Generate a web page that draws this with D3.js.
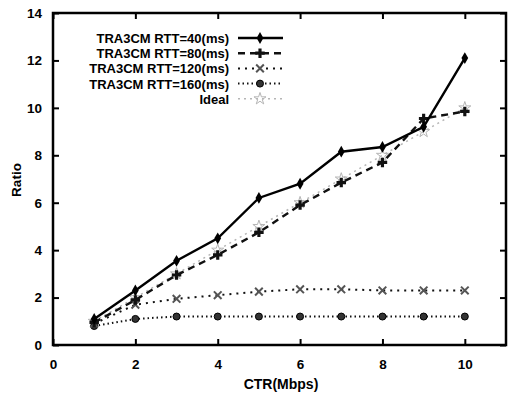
<!DOCTYPE html>
<html>
<head>
<meta charset="utf-8">
<script src="https://cdn.jsdelivr.net/npm/d3@7"></script>
<style>
  body { margin: 0; background: #fff; }
  text { font-family: "Liberation Sans", Arial, sans-serif; font-weight: bold; fill: #000; }
</style>
</head>
<body>
<svg id="chart" width="509" height="398"></svg>
<script>
const CTR = [1, 2, 3, 4, 5, 6, 7, 8, 9, 10];
const rtt40 = [1.1, 2.3, 3.55, 4.5, 6.2, 6.8, 8.15, 8.35, 9.2, 12.1];
const rtt80 = [0.95, 1.9, 2.95, 3.8, 4.75, 5.9, 6.85, 7.7, 9.55, 9.85];
const rtt120 = [0.9, 1.7, 1.95, 2.1, 2.25, 2.35, 2.35, 2.3, 2.3, 2.3];
const rtt160 = [0.8, 1.1, 1.2, 1.2, 1.2, 1.2, 1.2, 1.2, 1.2, 1.2];
const ideal = [1, 2, 3, 4, 5, 6, 7, 8, 9, 10];
const seriesNames = ["TRA3CM RTT=40(ms)", "TRA3CM RTT=80(ms)", "TRA3CM RTT=120(ms)", "TRA3CM RTT=160(ms)", "Ideal"];
const xTicks = [0, 2, 4, 6, 8, 10];
const yTicks = [0, 2, 4, 6, 8, 10, 12, 14];

const W = 509, H = 398;
const M = {left: 53, right: 3, top: 13, bottom: 53};

const svg = d3.select("#chart");

let x = d3.scaleLinear().domain([0, 11]).range([M.left, W - M.right]);
let y = d3.scaleLinear().domain([0, 14]).range([H - M.bottom, M.top]);

// line styles for each series
const styles = [
    {data: rtt40, color: "#000", width: 2.4, dash: null, marker: "diamond"},
    {data: rtt80, color: "#111", width: 2.4, dash: "7,5", marker: "plus"},
    {data: rtt120, color: "#111", width: 2, dash: "2,5", marker: "square"},
    {data: rtt160, color: "#111", width: 2, dash: "1.5,3", marker: "circle"},
    {data: ideal, color: "#b5b5b5", width: 1.5, dash: "2,4", marker: "star"}
];

let line = d3.line()
    .x(function (d) { return x(d[0]); })
    .y(function (d) { return y(d[1]); });

function drawMarker(g, type, cx, cy, color) {
    if (type === "diamond") {
        g.append("path").attr("d", d3.symbol(d3.symbolDiamond, 40)())
            .attr("transform", "translate(" + cx + "," + cy + ")").attr("fill", color);
    } else if (type === "plus") {
        g.append("path").attr("d", d3.symbol(d3.symbolCross, 50)())
            .attr("transform", "translate(" + cx + "," + cy + ")").attr("fill", color);
    } else if (type === "square") {
        g.append("path").attr("d", d3.symbol(d3.symbolX, 40)())
            .attr("transform", "translate(" + cx + "," + cy + ")")
            .attr("fill", "none").attr("stroke", "#555").attr("stroke-width", 2);
    } else if (type === "circle") {
        g.append("circle").attr("cx", cx).attr("cy", cy).attr("r", 3.5)
            .attr("fill", "#333").attr("stroke", "#000");
    } else {
        g.append("path").attr("d", d3.symbol(d3.symbolStar, 45)())
            .attr("transform", "translate(" + cx + "," + cy + ")")
            .attr("fill", "none").attr("stroke", color).attr("stroke-width", 1);
    }
}

// series (draw ideal first so it sits beneath)
[4, 3, 2, 1, 0].forEach(function (i) {
    let s = styles[i];
    let pts = CTR.map(function (c, j) { return [c, s.data[j]]; });
    let g = svg.append("g");
    g.append("path").datum(pts).attr("d", line)
        .attr("fill", "none").attr("stroke", s.color)
        .attr("stroke-width", s.width)
        .attr("stroke-dasharray", s.dash);
    pts.forEach(function (p) { drawMarker(g, s.marker, x(p[0]), y(p[1]), s.color); });
});

// frame
svg.append("rect")
    .attr("x", M.left).attr("y", M.top)
    .attr("width", W - M.right - M.left).attr("height", H - M.bottom - M.top)
    .attr("fill", "none").attr("stroke", "#000").attr("stroke-width", 2.5);

// axes with inward ticks
let xAxis = d3.axisBottom(x).tickValues(xTicks).tickSize(-6).tickPadding(14);
let gx = svg.append("g").attr("transform", "translate(0," + (H - M.bottom) + ")").call(xAxis);
let gxTop = svg.append("g").attr("transform", "translate(0," + M.top + ")")
    .call(d3.axisTop(x).tickValues(xTicks).tickSize(-6).tickFormat(""));
let yAxis = d3.axisLeft(y).tickValues(yTicks).tickSize(-6).tickPadding(11);
let gy = svg.append("g").attr("transform", "translate(" + M.left + ",0)").call(yAxis);
let gyR = svg.append("g").attr("transform", "translate(" + (W - M.right) + ",0)")
    .call(d3.axisRight(y).tickValues(yTicks).tickSize(-6).tickFormat(""));

[gx, gxTop, gy, gyR].forEach(function (g) {
    g.select(".domain").remove();
    g.selectAll(".tick line").attr("stroke", "#000").attr("stroke-width", 2);
    g.selectAll("text").style("font-size", "13.5px").style("font-family", "Liberation Sans, Arial, sans-serif").style("font-weight", "bold");
});

// axis titles
svg.append("text").attr("x", 281).attr("y", 389)
    .attr("text-anchor", "middle").style("font-size", "14px").text("CTR(Mbps)");
svg.append("text").attr("transform", "translate(21," + 180 + ") rotate(-90)")
    .attr("text-anchor", "middle").style("font-size", "13.5px").text("Ratio");

// legend
let legend = svg.append("g");
seriesNames.forEach(function (name, i) {
    let ly = 38 + i * 15.2;
    let s = styles[i];
    legend.append("text").attr("x", 229).attr("y", ly + 5)
        .attr("text-anchor", "end").style("font-size", "13px").text(name);
    legend.append("line").attr("x1", 238).attr("x2", 283).attr("y1", ly).attr("y2", ly)
        .attr("stroke", s.color).attr("stroke-width", s.width)
        .attr("stroke-dasharray", s.dash);
    drawMarker(legend, s.marker, 260, ly, s.color);
});
</script>
</body>
</html>
